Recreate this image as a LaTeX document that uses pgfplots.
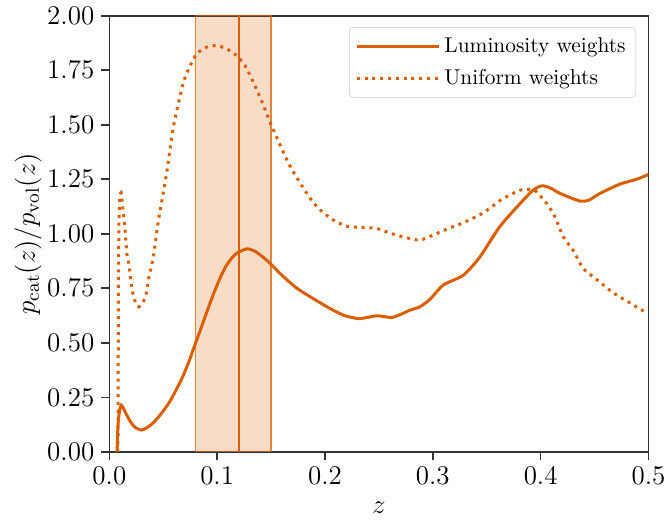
\RequirePackage{fix-cm}
\documentclass[border=0pt]{standalone}
\usepackage{fontspec}
\usepackage{pgfplots}
\pgfplotsset{compat=1.18}

\definecolor{zorange}{RGB}{217,95,2}

\begin{document}
\begin{tikzpicture}[font=\fontsize{13.5}{16}\selectfont]
\useasboundingbox (-54.65pt,-34.65pt) rectangle (277.75pt,225.85pt);
\begin{axis}[
    width=269.5pt, height=218pt, scale only axis,
    xmin=0, xmax=0.5, ymin=0, ymax=2,
    xtick={0,0.1,0.2,0.3,0.4,0.5},
    ytick={0,0.25,0.5,0.75,1,1.25,1.5,1.75,2},
    xticklabel style={/pgf/number format/.cd,fixed,fixed zerofill,precision=1},
    yticklabel style={/pgf/number format/.cd,fixed,fixed zerofill,precision=2},
    xtick pos=bottom, ytick pos=left,
    tick align=outside, major tick length=4pt,
    tick style={line width=0.8pt, black!80},
    axis line style={line width=0.8pt, black!80},
    xlabel={$z$}, ylabel={$p_{\rm cat}(z)/p_{\rm vol}(z)$},
    xlabel style={yshift=-2pt}, ylabel style={yshift=-4pt},
    legend cell align=left,
    legend style={at={(axis description cs:0.977,0.974)}, anchor=north east,
        draw=black!15, rounded corners=2pt, fill=white,
        font=\fontsize{10.7}{13}\selectfont, row sep=3pt,
        inner xsep=3pt, inner ysep=3pt},
    legend image code/.code={\draw[#1] (0pt,0pt) -- (41pt,0pt);},
    clip=true,
]
\addplot[line width=1.5pt, zorange, smooth, tension=0.4] coordinates {
 (0.0072,0.0) (0.0080,0.12) (0.0095,0.19) (0.0111,0.214) (0.013,0.20)
 (0.016,0.17) (0.020,0.135) (0.024,0.112) (0.0297,0.10) (0.034,0.108)
 (0.040,0.13) (0.047,0.168) (0.055,0.222) (0.061,0.275) (0.0674,0.337)
 (0.0735,0.41) (0.0798,0.497) (0.086,0.58) (0.0921,0.665) (0.0975,0.735)
 (0.103,0.80) (0.108,0.85) (0.113,0.885) (0.118,0.91) (0.1274,0.931) (0.135,0.92) (0.142,0.895)
 (0.149,0.865) (0.160,0.81) (0.174,0.75) (0.190,0.70) (0.2047,0.657)
 (0.218,0.625) (0.231,0.611) (0.240,0.617) (0.248,0.624) (0.255,0.62)
 (0.262,0.616) (0.270,0.63) (0.279,0.65) (0.288,0.665) (0.2975,0.70)
 (0.3097,0.765) (0.3283,0.81) (0.3437,0.894) (0.362,1.032) (0.381,1.139)
 (0.393,1.20) (0.401,1.22) (0.409,1.21) (0.418,1.185) (0.4364,1.15)
 (0.445,1.155) (0.455,1.185) (0.4736,1.228) (0.489,1.25) (0.500,1.272)
};
\addlegendentry{Luminosity weights}
\addplot[line width=1.5pt, zorange, dash pattern=on 1.5pt off 2.4pt, smooth, tension=0.4] coordinates {
 (0.0080,0.0) (0.0082,0.3) (0.0084,0.7) (0.0088,1.0) (0.0095,1.15)
 (0.0109,1.188) (0.0125,1.12) (0.0146,1.018) (0.0164,0.902) (0.018,0.867)
 (0.0195,0.80) (0.0217,0.73) (0.0235,0.696) (0.0272,0.665) (0.0319,0.693)
 (0.0343,0.727) (0.0365,0.795) (0.0396,0.864) (0.0411,0.902)
 (0.0455,1.06) (0.0532,1.28) (0.0594,1.49) (0.0687,1.694) (0.075,1.77)
 (0.081,1.825) (0.090,1.855) (0.099,1.863) (0.108,1.85) (0.118,1.817)
 (0.126,1.77) (0.1336,1.694) (0.142,1.60) (0.1506,1.494) (0.1676,1.31)
 (0.186,1.164) (0.1957,1.109) (0.2068,1.066) (0.2195,1.035) (0.2334,1.029)
 (0.2473,1.025) (0.261,1.002) (0.2745,0.983) (0.288,0.971) (0.3017,0.997)
 (0.3147,1.025) (0.328,1.05) (0.3468,1.096) (0.364,1.158) (0.381,1.2)
 (0.3917,1.203) (0.396,1.193) (0.4056,1.139) (0.4133,1.078) (0.421,0.986)
 (0.430,0.925) (0.4395,0.841) (0.452,0.79) (0.4674,0.729) (0.4828,0.683)
 (0.4989,0.635)
};
\addlegendentry{Uniform weights}
\addplot[forget plot, fill=zorange, fill opacity=0.22, draw=zorange, draw opacity=0.75, line width=0.6pt]
 coordinates {(0.08,0) (0.08,2) (0.15,2) (0.15,0)} -- cycle;
\addplot[forget plot, zorange, line width=1.2pt] coordinates {(0.12,0) (0.12,2)};
\end{axis}
\end{tikzpicture}
\end{document}
